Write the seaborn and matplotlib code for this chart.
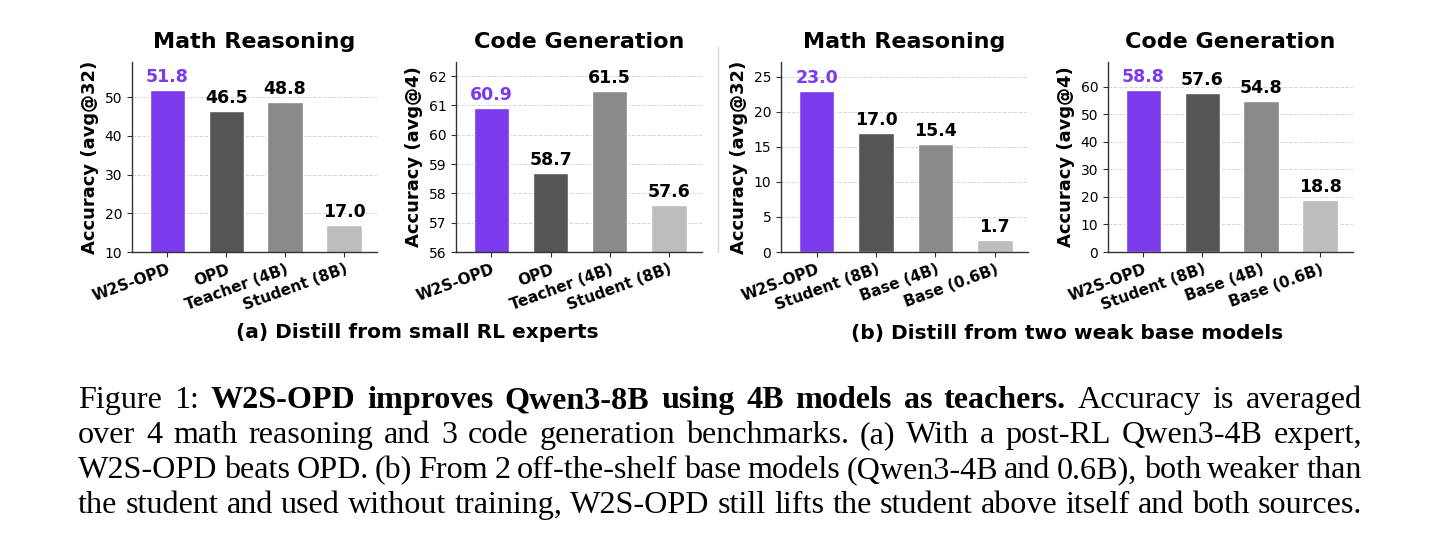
import matplotlib
matplotlib.use("Agg")
import matplotlib.pyplot as plt
import seaborn as sns

# data
cats_a = ["W2S-OPD", "OPD", "Teacher (4B)", "Student (8B)"]
math_a = [51.8, 46.5, 48.8, 17.0]
code_a = [60.9, 58.7, 61.5, 57.6]

cats_b = ["W2S-OPD", "Student (8B)", "Base (4B)", "Base (0.6B)"]
math_b = [23.0, 17.0, 15.4, 1.7]
code_b = [58.8, 57.6, 54.8, 18.8]

bar_colors = ["#7c3aed", "#555555", "#8a8a8a", "#bdbdbd"]
purple = "#7c3aed"

sns.set_style("ticks")
plt.rcParams["font.family"] = ["DejaVu Sans"]
plt.rcParams["text.color"] = "black"
plt.rcParams["axes.labelcolor"] = "black"
plt.rcParams["xtick.color"] = "black"
plt.rcParams["ytick.color"] = "black"

W, H = 1456, 545
fig = plt.figure(figsize=(W / 100, H / 100), dpi=100)

# axes boxes in pixels: (left, right)
panels = [
    (132, 377, cats_a, math_a, "Math Reasoning", "Accuracy (avg@32)", (10, 59.1), range(10, 51, 10)),
    (456, 702, cats_a, code_a, "Code Generation", "Accuracy (avg@4)", (56, 62.48), range(56, 63, 1)),
    (781, 1028, cats_b, math_b, "Math Reasoning", "Accuracy (avg@32)", (0, 27.1), range(0, 26, 5)),
    (1108, 1353, cats_b, code_b, "Code Generation", "Accuracy (avg@4)", (0, 68.9), range(0, 61, 10)),
]
top_px, bot_px = 62, 252

for left, right, cats, vals, title, ylab, ylim, ticks in panels:
    ax = fig.add_axes([left / W, 1 - bot_px / H, (right - left) / W, (bot_px - top_px) / H])
    sns.barplot(x=cats, y=vals, hue=cats, palette=bar_colors, legend=False,
                width=0.6, saturation=1, ax=ax)
    ax.set_ylim(*ylim)
    ax.set_xlim(-0.6, 3.56)
    ax.set_yticks(list(ticks))
    ax.yaxis.grid(True, linestyle="--", color="#cccccc", linewidth=0.7, alpha=0.8)
    ax.set_axisbelow(True)
    sns.despine(ax=ax)
    for sp in ["left", "bottom"]:
        ax.spines[sp].set_color("#333333")
        ax.spines[sp].set_linewidth(1.0)
    ax.tick_params(axis="y", labelsize=10, length=3.5, color="#333333")
    ax.tick_params(axis="x", labelsize=11, length=3.5, color="#333333")
    for lab in ax.get_xticklabels():
        lab.set_fontweight("bold")
        lab.set_rotation(20)
        lab.set_ha("right")
        lab.set_rotation_mode("anchor")
    ax.set_xlabel("")
    ax.set_ylabel(ylab, fontsize=13, fontweight="bold")
    ax.set_title(title, fontsize=16, fontweight="bold", pad=10)
    for i, cont in enumerate(ax.containers):
        txts = ax.bar_label(cont, fmt="%.1f", padding=3, fontsize=12.5, fontweight="bold")
        if i == 0:
            for t in txts:
                t.set_color(purple)

# separator between (a) and (b)
fig.add_artist(plt.Line2D([718 / W, 718 / W], [1 - 252 / H, 1 - 47 / H],
                          color="#d6d6d6", linewidth=1.0))

fig.text(417 / W, 1 - 333 / H, "(a) Distill from small RL experts",
         ha="center", va="center", fontsize=14.5, fontweight="bold")
fig.text(1067 / W, 1 - 333 / H, "(b) Distill from two weak base models",
         ha="center", va="center", fontsize=14.5, fontweight="bold")

# caption, justified word by word
caption = [
    [("Figure 1:", "normal"), ("W2S-OPD improves Qwen3-8B using 4B models as teachers.", "bold"),
     ("Accuracy is averaged", "normal")],
    [("over 4 math reasoning and 3 code generation benchmarks. (a) With a post-RL Qwen3-4B expert,", "normal")],
    [("W2S-OPD beats OPD. (b) From 2 off-the-shelf base models (Qwen3-4B and 0.6B), both weaker than", "normal")],
    [("the student and used without training, W2S-OPD still lifts the student above itself and both sources.", "normal")],
]
cap_left, cap_right = 78, 1362
base0, step = 408, 35
renderer = fig.canvas.get_renderer()

# pick the size at which the widest line just fits with normal spacing
probe = fig.text(0, 0, caption[3][0][0], fontsize=20, family="Liberation Serif")
cap_size = 20 * (cap_right - cap_left) / probe.get_window_extent(renderer).width
probe.remove()

for li, segs in enumerate(caption):
    words = []
    for s, wt in segs:
        for w in s.split():
            words.append((w, wt))
    y = 1 - (base0 + li * step) / H
    arts, widths = [], []
    for w, wt in words:
        t = fig.text(0, y, w, fontsize=cap_size, fontweight=wt, family="Liberation Serif",
                     va="baseline", ha="left")
        arts.append(t)
        widths.append(t.get_window_extent(renderer).width)
    gap = (cap_right - cap_left - sum(widths)) / (len(words) - 1)
    x = cap_left
    for t, w in zip(arts, widths):
        t.set_x(x / W)
        x += w + gap

fig.savefig("out.png", dpi=100)
